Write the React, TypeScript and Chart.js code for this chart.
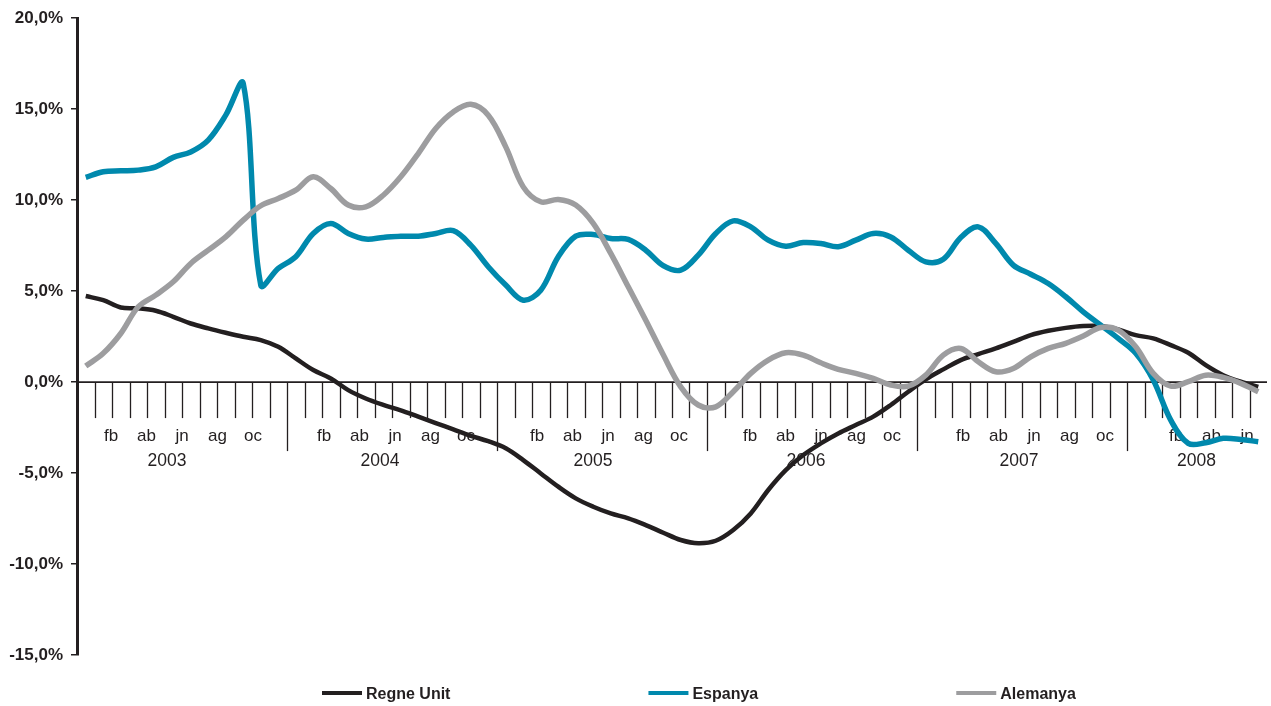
import React, { useEffect, useRef } from 'react';
import { Chart, registerables } from 'chart.js';

Chart.register(...registerables);

// ---- data ----
const YEARS = ['2003', '2004', '2005', '2006', '2007', '2008'];
const MONTHS_IN_YEAR = [12, 12, 12, 12, 12, 8];
// label shown at the month boundary with this index inside a year
const MONTH_TICK_LABELS = ['', '', 'fb', '', 'ab', '', 'jn', '', 'ag', '', 'oc', ''];
const Y_MIN = -15;
const Y_MAX = 20;
const Y_STEP = 5;
const SERIES_NAMES = ['Regne Unit', 'Espanya', 'Alemanya'];

const REGNE_UNIT = [
  4.73, 4.5, 4.1, 4.05, 3.92, 3.59, 3.22, 2.95, 2.71, 2.49, 2.31, 1.94,
  1.3, 0.66, 0.2, -0.44, -0.9, -1.25, -1.55, -1.9, -2.25, -2.6, -2.95, -3.25,
  -3.64, -4.29, -5.02, -5.75, -6.39, -6.85, -7.22, -7.49, -7.86, -8.28, -8.68, -8.86,
  -8.72, -8.13, -7.22, -5.93, -4.84, -4.01, -3.37, -2.82, -2.36, -1.9, -1.26, -0.53,
  0.15, 0.7, 1.21, 1.54, 1.85, 2.21, 2.58, 2.82, 2.98, 3.08, 3.08, 2.89,
  2.58, 2.4, 2.03, 1.61, 0.93, 0.38, 0.02, -0.26,
];
const ESPANYA = [
  11.25, 11.56, 11.61, 11.65, 11.83, 12.35, 12.65, 13.3, 14.67, 16.41, 5.33, 6.25,
  6.89, 8.17, 8.72, 8.17, 7.86, 7.95, 8.02, 8.02, 8.17, 8.32, 7.53, 6.34,
  5.33, 4.5, 5.05, 6.89, 8.02, 8.11, 7.89, 7.84, 7.25, 6.4, 6.15, 6.98,
  8.17, 8.86, 8.53, 7.8, 7.47, 7.67, 7.62, 7.44, 7.8, 8.17, 7.98, 7.25,
  6.61, 6.75, 7.95, 8.53, 7.62, 6.43, 5.93, 5.42, 4.69, 3.86, 3.13, 2.4,
  1.58, 0.11, -2.09, -3.37, -3.33, -3.09, -3.15, -3.28,
];
const ALEMANYA = [
  0.88, 1.58, 2.67, 4.14, 4.78, 5.51, 6.52, 7.25, 7.98, 8.9, 9.69, 10.09,
  10.55, 11.28, 10.64, 9.73, 9.63, 10.27, 11.28, 12.56, 13.94, 14.85, 15.27, 14.67,
  12.93, 10.73, 9.91, 10.04, 9.73, 8.72, 7.07, 5.24, 3.4, 1.5, -0.26, -1.26,
  -1.36, -0.53, 0.48, 1.21, 1.61, 1.48, 1.06, 0.7, 0.48, 0.2, -0.16, -0.22,
  0.38, 1.48, 1.85, 1.12, 0.57, 0.75, 1.39, 1.85, 2.13, 2.53, 3.0, 2.86,
  1.94, 0.48, -0.22, 0.02, 0.38, 0.26, -0.07, -0.53,
];

// ---- style ----
const FONT = '"Liberation Sans", Arial, Helvetica, sans-serif';
const INK = '#231f20';
const COLORS = ['#231f20', '#0089ad', '#9d9d9f'];
const WIDTHS = [4.5, 5.5, 5.5];
const LABEL_SPREAD = 17.75 / 17.5;
const YEAR_LABEL_SHIFT = -0.85;

const TOTAL = MONTHS_IN_YEAR.reduce((a, b) => a + b, 0);
const toPoints = (arr: number[]) => arr.map((v, i) => ({ x: i + 0.5, y: v }));

const categoryAxisPlugin = {
  id: 'categoryAxis',
  beforeDatasetsDraw(chart: any) {
    const { ctx } = chart;
    const x = chart.scales.x;
    const y = chart.scales.y;
    const y0 = y.getPixelForValue(0);
    const left = x.getPixelForValue(0);
    const right = x.getPixelForValue(TOTAL);
    const labelX = (v: number) => left + (x.getPixelForValue(v) - left) * LABEL_SPREAD - 1.5;
    ctx.save();
    ctx.strokeStyle = INK;
    ctx.lineWidth = 1.6;
    ctx.beginPath();
    ctx.moveTo(left, y0);
    ctx.lineTo(right, y0);
    ctx.stroke();
    ctx.fillStyle = INK;
    ctx.textAlign = 'center';
    ctx.textBaseline = 'alphabetic';
    let k = 0;
    YEARS.forEach((yr, yi) => {
      const n = MONTHS_IN_YEAR[yi];
      ctx.font = `17px ${FONT}`;
      for (let m = 1; m <= n; m++) {
        const b = k + m;
        if (b >= TOTAL) break;
        const px = Math.round(x.getPixelForValue(b)) + 0.5;
        const len = m === 12 ? 69 : 36;
        ctx.lineWidth = 1.3;
        ctx.beginPath();
        ctx.moveTo(px, y0);
        ctx.lineTo(px, y0 + len);
        ctx.stroke();
        const lab = MONTH_TICK_LABELS[m % 12];
        if (lab) ctx.fillText(lab, labelX(b), y0 + 59);
      }
      ctx.font = `17.5px ${FONT}`;
      ctx.fillText(yr, labelX(k + n / 2 + YEAR_LABEL_SHIFT), y0 + 84);
      k += n;
    });
    ctx.restore();
  },
};

const legendPlugin = {
  id: 'bottomLegend',
  afterDraw(chart: any) {
    const { ctx } = chart;
    ctx.save();
    ctx.font = `bold 16px ${FONT}`;
    ctx.textAlign = 'left';
    ctx.textBaseline = 'alphabetic';
    let xpos = 322;
    const ly = 693;
    chart.data.datasets.forEach((ds: any) => {
      ctx.strokeStyle = ds.borderColor;
      ctx.lineWidth = 4;
      ctx.beginPath();
      ctx.moveTo(xpos, ly);
      ctx.lineTo(xpos + 40, ly);
      ctx.stroke();
      ctx.fillStyle = INK;
      ctx.fillText(ds.label, xpos + 44, ly + 6);
      xpos += 44 + ctx.measureText(ds.label).width + 198;
    });
    ctx.restore();
  },
};

export default function App() {
  const canvasRef = useRef<HTMLCanvasElement | null>(null);

  useEffect(() => {
    if (!canvasRef.current) return;
    const series = [REGNE_UNIT, ESPANYA, ALEMANYA];
    const chart = new Chart(canvasRef.current, {
      type: 'line',
      data: {
        datasets: series.map((s, i) => ({
          label: SERIES_NAMES[i],
          data: toPoints(s),
          borderColor: COLORS[i],
          backgroundColor: COLORS[i],
          borderWidth: WIDTHS[i],
          pointRadius: 0,
          pointHoverRadius: 0,
          tension: 0.35,
          fill: false,
          order: 3 - i,
        })),
      },
      options: {
        responsive: false,
        animation: false,
        devicePixelRatio: 1,
        layout: { padding: { left: 0, top: 18, right: 4, bottom: 51 } },
        plugins: {
          legend: { display: false },
          tooltip: { enabled: false },
        },
        scales: {
          x: {
            type: 'linear',
            min: 0,
            max: TOTAL,
            display: false,
          },
          y: {
            min: Y_MIN,
            max: Y_MAX,
            afterFit: (scale: any) => {
              scale.width = 77;
            },
            ticks: {
              stepSize: Y_STEP,
              padding: 8,
              color: INK,
              font: { family: FONT, size: 17, weight: 'bold' },
              callback: (v: any) => Number(v).toFixed(1).replace('.', ',') + '%',
            },
            grid: {
              drawOnChartArea: false,
              drawTicks: true,
              tickLength: 6,
              color: INK,
              lineWidth: 1.5,
            },
            border: { display: true, color: INK, width: 3 },
          },
        },
      },
      plugins: [categoryAxisPlugin, legendPlugin],
    });
    return () => chart.destroy();
  }, []);

  return (
    <div style={{ position: 'absolute', left: 0, top: 0, width: 1271, height: 706, background: '#fff' }}>
      <canvas ref={canvasRef} width={1271} height={706} />
    </div>
  );
}
